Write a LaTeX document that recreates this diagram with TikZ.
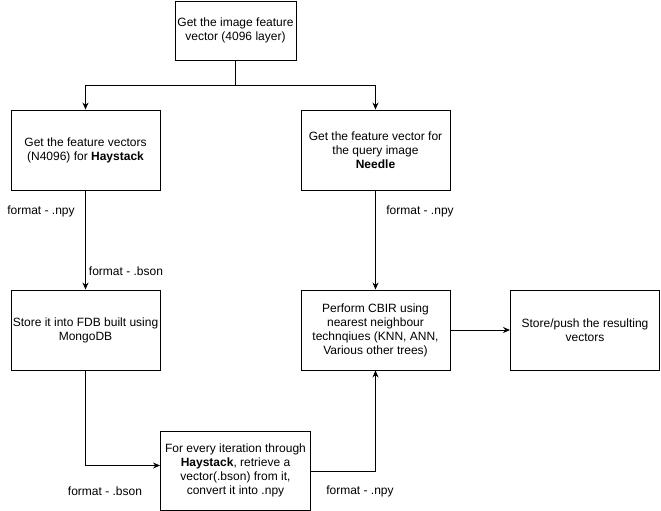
\documentclass[tikz,border=0pt]{standalone}
\usepackage{fontspec}
\setmainfont{Liberation Sans}
\usetikzlibrary{arrows.meta}
\begin{document}
\begin{tikzpicture}[x=1pt,y=-1pt,
  box/.style={draw,line width=0.9pt,minimum width=#1,align=center,inner sep=0pt,
    font=\fontsize{12}{14}\selectfont},
  lbl/.style={font=\fontsize{12}{14}\selectfont,inner sep=0pt},
  conn/.style={line width=0.9pt},
  arr/.style={conn,-{Stealth[length=7pt,width=6pt]}}]
\useasboundingbox (0,0) rectangle (661,511);
\node[box=121pt,minimum height=59pt] (top) at (235.5,30.5) {Get the image feature\\vector (4096 layer)};
\node[box=149pt,minimum height=80pt] (hay) at (85.5,150) {Get the feature vectors\\(N4096) for \textbf{Haystack}};
\node[box=149pt,minimum height=80pt] (needle) at (375.5,150) {Get the feature vector for\\the query image\\\textbf{Needle}};
\node[box=149pt,minimum height=80pt] (fdb) at (85.5,330) {Store it into FDB built using\\MongoDB};
\node[box=149pt,minimum height=80pt] (cbir) at (375.5,330) {Perform CBIR using\\nearest neighbour\\technqiues (KNN, ANN,\\Various other trees)};
\node[box=149pt,minimum height=80pt] (push) at (585,330) {Store/push the resulting\\vectors};
\node[box=150pt,minimum height=79pt] (iter) at (235.5,470.5) {For every iteration through\\\textbf{Haystack}, retrieve a\\vector(.bson) from it,\\convert it into .npy};
\coordinate (j) at (235.5,85);
\draw[conn] (top.south) -- (j);
\draw[arr] (j) -| (hay.north);
\draw[arr] (j) -| (needle.north);
\draw[arr] (hay.south) -- (fdb.north);
\draw[arr] (needle.south) -- (cbir.north);
\draw[arr] (fdb.south) |- ([yshift=5pt]iter.west);
\draw[arr] ([yshift=-1pt]iter.east) -| (cbir.south);
\draw[arr] (cbir.east) -- (push.west);
\node[lbl] (l1) at (41,211.5) {format - .npy};
\node[lbl] (l2) at (126,271) {format - .bson};
\node[lbl] (l3) at (420,211.5) {format - .npy};
\node[lbl] (l4) at (105,491) {format - .bson};
\node[lbl] (l5) at (360,491) {format - .npy};
\end{tikzpicture}
\end{document}
